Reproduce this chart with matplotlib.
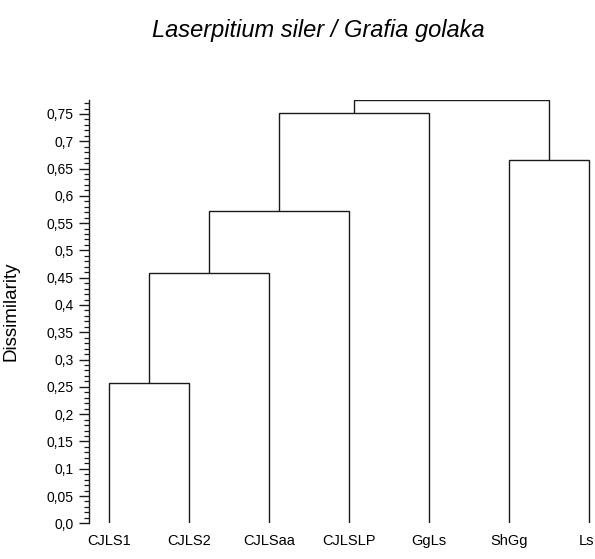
import matplotlib
matplotlib.use("Agg")
import matplotlib.pyplot as plt
import matplotlib.transforms as mtransforms
from matplotlib.ticker import MultipleLocator, FixedLocator

plt.rcParams['font.family'] = ['Liberation Sans', 'DejaVu Sans']

# Data
leaves = ["CJLS1", "CJLS2", "CJLSaa", "CJLSLP", "GgLs", "ShGg", "Ls"]
# merges: (cluster a, cluster b, height); new clusters numbered from len(leaves)
merge_a = [0, 7, 8, 9, 5, 10]
merge_b = [1, 2, 3, 4, 6, 11]
merge_h = [0.257, 0.458, 0.572, 0.752, 0.665, 0.776]
ytick_vals = [0.0, 0.05, 0.1, 0.15, 0.2, 0.25, 0.3, 0.35, 0.4, 0.45, 0.5,
              0.55, 0.6, 0.65, 0.7, 0.75]
ytick_labels = ["0,0", "0,05", "0,1", "0,15", "0,2", "0,25", "0,3", "0,35",
                "0,4", "0,45", "0,5", "0,55", "0,6", "0,65", "0,7", "0,75"]

W, H = 595, 559
fig = plt.figure(figsize=(W / 100, H / 100), dpi=100)
left_px, right_px, top_px, bot_px = 89, 595, 100, 523.3
ax = fig.add_axes([left_px / W, 1 - bot_px / H, (right_px - left_px) / W,
                   (bot_px - top_px) / H])

# positions and heights of clusters
xpos = {i: float(i) for i in range(len(leaves))}
hgt = {i: 0.0 for i in range(len(leaves))}
lc = "#1a1a1a"
for k, (a, b, h) in enumerate(zip(merge_a, merge_b, merge_h)):
    nid = len(leaves) + k
    xa, xb = xpos[a], xpos[b]
    ax.plot([xa, xa, xb, xb], [hgt[a], h, h, hgt[b]], color=lc, lw=1.0,
            solid_joinstyle='miter', solid_capstyle='butt')
    xpos[nid] = (xa + xb) / 2
    hgt[nid] = h

ax.set_xlim(-0.25, (right_px - left_px) / 80 - 0.25)
ax.set_ylim(0, 0.7756)

for s in ['top', 'right', 'bottom']:
    ax.spines[s].set_visible(False)
ax.spines['left'].set_linewidth(1.0)
ax.spines['left'].set_color(lc)

ax.yaxis.set_major_locator(FixedLocator(ytick_vals))
ax.set_yticklabels(ytick_labels)
ax.yaxis.set_minor_locator(MultipleLocator(0.01))
ax.tick_params(axis='y', which='major', length=7.5, width=1.0, pad=3.5,
               labelsize=10, color=lc)
ax.tick_params(axis='y', which='minor', length=3.8, width=0.9, color=lc)

ax.set_xticks(range(len(leaves)))
ax.set_xticklabels(leaves)
ax.tick_params(axis='x', length=0, pad=8, labelsize=10.5)
# nudge the last label so it stays inside the figure
last = ax.get_xticklabels()[-1]
last.set_transform(last.get_transform() +
                   mtransforms.ScaledTranslation(-3 / 100, 0, fig.dpi_scale_trans))

ax.set_ylabel("Dissimilarity", fontsize=13.5)
ax.yaxis.set_label_coords(-(89 - 20) / (right_px - left_px), 0.5)

fig.text(318 / W, 1 - 30 / H, "Laserpitium siler / Grafia golaka",
         fontsize=17, style='italic', ha='center', va='center')

fig.savefig("out.png", dpi=100)
